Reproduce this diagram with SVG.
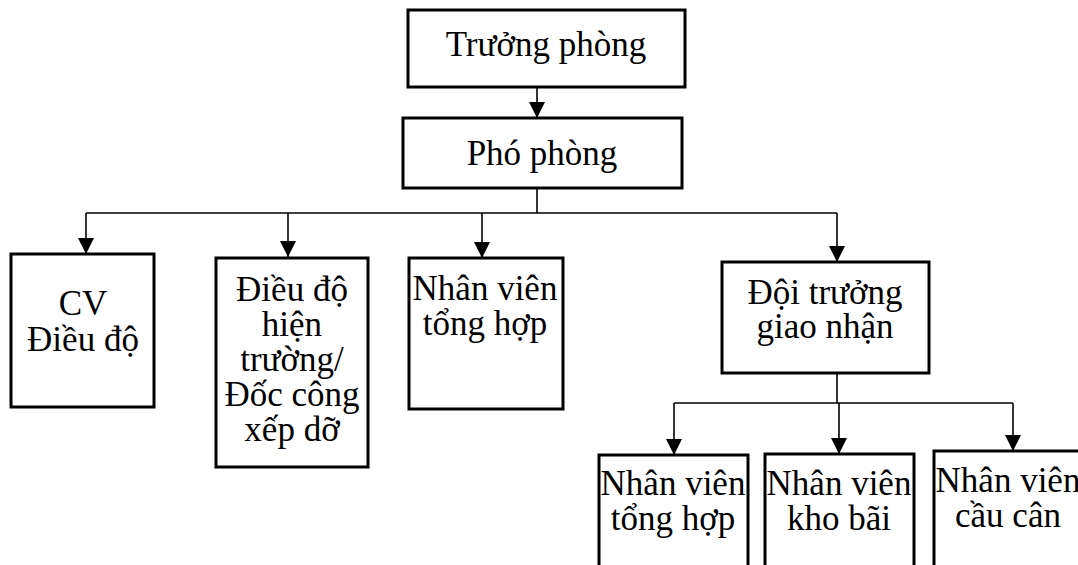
<svg xmlns="http://www.w3.org/2000/svg" width="1078" height="565" viewBox="0 0 1078 565">
  <style>
    .box { fill: #ffffff; stroke: #000000; stroke-width: 3; }
    .lbl { font-family: "Liberation Serif", "Times New Roman", serif; font-size: 35px; fill: #000000; text-anchor: middle; }
    .wire { fill: none; stroke: #000000; stroke-width: 1.6; }
  </style>
  <defs>
    <marker id="arrow" viewBox="0 0 16 16" refX="16" refY="8" markerWidth="16" markerHeight="16" markerUnits="userSpaceOnUse" orient="auto">
      <path d="M0,0 L16,8 L0,16 z" fill="#000000"/>
    </marker>
  </defs>

  <rect width="1078" height="565" fill="#ffffff"/>

  <!-- connectors -->
  <g id="connectors">
    <line class="wire" x1="537" y1="87" x2="537" y2="118" marker-end="url(#arrow)"/>
    <polyline class="wire" points="537,188 537,213"/>
    <polyline class="wire" points="86,213 837,213"/>
    <line class="wire" x1="86" y1="213" x2="86" y2="254" marker-end="url(#arrow)"/>
    <line class="wire" x1="288" y1="213" x2="288" y2="257" marker-end="url(#arrow)"/>
    <line class="wire" x1="482" y1="213" x2="482" y2="258" marker-end="url(#arrow)"/>
    <line class="wire" x1="837" y1="213" x2="837" y2="262" marker-end="url(#arrow)"/>
    <polyline class="wire" points="837,373 837,403"/>
    <polyline class="wire" points="674,403 1013,403"/>
    <line class="wire" x1="674" y1="403" x2="674" y2="455" marker-end="url(#arrow)"/>
    <line class="wire" x1="839" y1="403" x2="839" y2="454" marker-end="url(#arrow)"/>
    <line class="wire" x1="1013" y1="403" x2="1013" y2="451" marker-end="url(#arrow)"/>
  </g>

  <g id="truong-phong">
    <rect class="box" x="408" y="10" width="277" height="77"/>
    <text class="lbl" x="546" y="56">Trưởng phòng</text>
  </g>

  <g id="pho-phong">
    <rect class="box" x="403" y="118" width="279" height="70"/>
    <text class="lbl" x="542" y="165">Phó phòng</text>
  </g>

  <g id="cv-dieu-do">
    <rect class="box" x="11" y="254" width="143" height="153"/>
    <text class="lbl" x="83" y="315">CV</text>
    <text class="lbl" x="83" y="351">Điều độ</text>
  </g>

  <g id="dieu-do-hien-truong">
    <rect class="box" x="216" y="258" width="152" height="209"/>
    <text class="lbl" x="292" y="301">Điều độ</text>
    <text class="lbl" x="292" y="336">hiện</text>
    <text class="lbl" x="292" y="371">trường/</text>
    <text class="lbl" x="292" y="406">Đốc công</text>
    <text class="lbl" x="292" y="441">xếp dỡ</text>
  </g>

  <g id="nv-tong-hop-1">
    <rect class="box" x="409" y="258" width="154" height="151"/>
    <text class="lbl" x="485" y="300">Nhân viên</text>
    <text class="lbl" x="485" y="335">tổng hợp</text>
  </g>

  <g id="doi-truong-giao-nhan">
    <rect class="box" x="722" y="262" width="207" height="111"/>
    <text class="lbl" x="825" y="304">Đội trưởng</text>
    <text class="lbl" x="825" y="338">giao nhận</text>
  </g>

  <g id="nv-tong-hop-2">
    <rect class="box" x="599" y="455" width="149" height="120"/>
    <text class="lbl" x="673" y="495">Nhân viên</text>
    <text class="lbl" x="673" y="530">tổng hợp</text>
  </g>

  <g id="nv-kho-bai">
    <rect class="box" x="765" y="454" width="149" height="121"/>
    <text class="lbl" x="839" y="495">Nhân viên</text>
    <text class="lbl" x="839" y="530">kho bãi</text>
  </g>

  <g id="nv-cau-can">
    <rect class="box" x="934" y="451" width="149" height="124"/>
    <text class="lbl" x="1008" y="492">Nhân viên</text>
    <text class="lbl" x="1008" y="527">cầu cân</text>
  </g>
</svg>
